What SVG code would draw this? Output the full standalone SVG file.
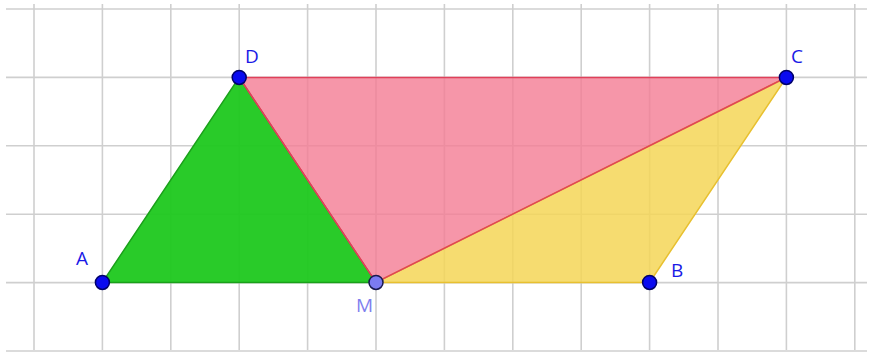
<svg xmlns="http://www.w3.org/2000/svg" width="873" height="352" viewBox="0 0 873 352">
<style>
.grid line{stroke:#cfcfcf;stroke-width:1.6}
.lbl{font-family:"Open Sans","Liberation Sans",sans-serif;font-size:19px;font-weight:500;fill:#1a1ae6}
.pt{fill:#0a0af0;stroke:#00006a;stroke-width:1.5}
</style>
<rect width="873" height="352" fill="#fff"/>
<g class="grid">
<line x1="34" y1="4" x2="34" y2="350"/>
<line x1="102.4" y1="4" x2="102.4" y2="350"/>
<line x1="170.8" y1="4" x2="170.8" y2="350"/>
<line x1="239.2" y1="4" x2="239.2" y2="350"/>
<line x1="307.6" y1="4" x2="307.6" y2="350"/>
<line x1="376" y1="4" x2="376" y2="350"/>
<line x1="444.4" y1="4" x2="444.4" y2="350"/>
<line x1="512.8" y1="4" x2="512.8" y2="350"/>
<line x1="581.2" y1="4" x2="581.2" y2="350"/>
<line x1="649.6" y1="4" x2="649.6" y2="350"/>
<line x1="718" y1="4" x2="718" y2="350"/>
<line x1="786.4" y1="4" x2="786.4" y2="350"/>
<line x1="854.8" y1="4" x2="854.8" y2="350"/>
<line x1="6" y1="9" x2="867" y2="9"/>
<line x1="6" y1="77.4" x2="867" y2="77.4"/>
<line x1="6" y1="145.8" x2="867" y2="145.8"/>
<line x1="6" y1="214.2" x2="867" y2="214.2"/>
<line x1="6" y1="282.6" x2="867" y2="282.6"/>
<line x1="6" y1="351" x2="867" y2="351"/>
</g>
<g id="connectors">
<polygon id="triADM" points="102.4,282.4 239.2,77.4 376,282.4" fill="#1ec81e" fill-opacity="0.95" stroke="#1aa01a" stroke-width="1.5"/>
<polygon id="triDMC" points="239.2,77.4 786.4,77.4 376,282.4" fill="#f47c94" fill-opacity="0.8" stroke="#e0405a" stroke-width="1.5"/>
<polygon id="triMBC" points="376,282.4 649.6,282.4 786.4,77.4" fill="#f5d657" fill-opacity="0.85" stroke="#e8c030" stroke-width="1.5"/>
<line x1="376" y1="282.4" x2="786.4" y2="77.4" stroke="#e0405a" stroke-width="1.5"/>
<line x1="239.2" y1="77.4" x2="376" y2="282.4" stroke="#e0405a" stroke-width="1.2"/>
</g>
<g id="A"><circle class="pt" cx="102.4" cy="282.4" r="7"/><text class="lbl" x="76" y="265">A</text></g>
<g id="D"><circle class="pt" cx="239.2" cy="77.4" r="7"/><text class="lbl" x="245" y="63">D</text></g>
<g id="C"><circle class="pt" cx="786.4" cy="77.4" r="7"/><text class="lbl" x="791" y="63">C</text></g>
<g id="B"><circle class="pt" cx="649.6" cy="282.4" r="7"/><text class="lbl" x="671" y="277">B</text></g>
<g id="M"><circle cx="376" cy="282.4" r="7" fill="#7b7bf2" stroke="#1a1a50" stroke-width="1.5"/><text class="lbl" x="356" y="312" style="fill:#7f7fee">M</text></g>
</svg>
